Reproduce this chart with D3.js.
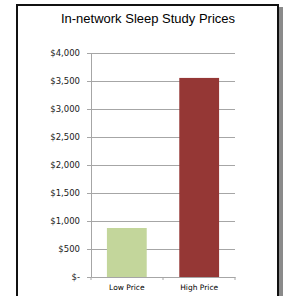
<!DOCTYPE html>
<html>
<head>
<meta charset="utf-8">
<script src="https://cdn.jsdelivr.net/npm/d3@7"></script>
<style>
  body { margin: 0; background: #fff; }
</style>
</head>
<body>
<div id="vis"></div>
<script>
const FRAME_WIDTH = 284;
const FRAME_HEIGHT = 296;
const MARGINS = {left: 91, right: 49, top: 53, bottom: 19};
const VIS_WIDTH = FRAME_WIDTH - MARGINS.left - MARGINS.right;
const VIS_HEIGHT = FRAME_HEIGHT - MARGINS.top - MARGINS.bottom;

const categories = ["Low Price", "High Price"];
const prices = [875, 3555];
const barColors = ["#c3d69b", "#953735"];
const yTicks = [0, 500, 1000, 1500, 2000, 2500, 3000, 3500, 4000];
const title = "In-network  Sleep  Study  Prices";

const svg = d3.select("#vis")
              .append("svg")
              .attr("width", FRAME_WIDTH)
              .attr("height", FRAME_HEIGHT);

// shadowed border round the chart
svg.append("rect")
   .attr("x", 19).attr("y", 7)
   .attr("width", 264).attr("height", 300)
   .attr("fill", "#8a8a8a");
svg.append("rect")
   .attr("x", 17).attr("y", 5)
   .attr("width", 261).attr("height", 300)
   .attr("fill", "#fff")
   .attr("stroke", "#111")
   .attr("stroke-width", 2);

svg.append("text")
   .attr("x", 148).attr("y", 23)
   .attr("text-anchor", "middle")
   .attr("font-family", "Liberation Sans, Arial, sans-serif")
   .attr("font-size", "13px")
   .attr("fill", "#000")
   .text(title);

const X_SCALE = d3.scaleBand()
                  .range([0, VIS_WIDTH])
                  .domain(categories)
                  .paddingInner(0.45)
                  .paddingOuter(0.22);

const Y_SCALE = d3.scaleLinear()
                  .range([VIS_HEIGHT, 0])
                  .domain([0, 4000]);

const g = svg.append("g")
             .attr("transform", "translate(" + MARGINS.left + "," + MARGINS.top + ")");

// gridlines
g.selectAll(".grid")
 .data(yTicks.slice(1))
 .enter()
 .append("line")
   .attr("x1", 0).attr("x2", VIS_WIDTH)
   .attr("y1", d => Math.round(Y_SCALE(d)) + 0.5)
   .attr("y2", d => Math.round(Y_SCALE(d)) + 0.5)
   .attr("stroke", "#a6a6a6");

// y axis
const yAxis = g.append("g")
  .call(d3.axisLeft(Y_SCALE)
          .tickValues(yTicks)
          .tickSize(4)
          .tickPadding(7)
          .tickFormat(d => d === 0 ? "$-" : "$" + d3.format(",")(d)));
yAxis.selectAll("line, path").attr("stroke", "#a6a6a6");
yAxis.selectAll("text")
     .attr("font-family", "DejaVu Sans, sans-serif")
     .attr("font-size", "8.5px")
     .attr("fill", "#1a1a1a");

// bars
g.selectAll(".bar")
 .data(prices)
 .enter()
 .append("rect")
   .attr("x", (d, i) => X_SCALE(categories[i]))
   .attr("width", X_SCALE.bandwidth())
   .attr("y", d => Y_SCALE(d))
   .attr("height", d => VIS_HEIGHT - Y_SCALE(d))
   .attr("fill", (d, i) => barColors[i]);

// x axis
const xAxis = g.append("g")
  .attr("transform", "translate(0," + VIS_HEIGHT + ")")
  .call(d3.axisBottom(X_SCALE).tickSize(0).tickPadding(8));
xAxis.select(".domain").attr("stroke", "#a6a6a6");
xAxis.selectAll("text")
     .attr("font-family", "DejaVu Sans, sans-serif")
     .attr("font-size", "7.5px")
     .attr("fill", "#000");
// category separators
xAxis.selectAll(".sep")
     .data([0, VIS_WIDTH / 2, VIS_WIDTH])
     .enter()
     .append("line")
       .attr("x1", d => d).attr("x2", d => d)
       .attr("y1", 0).attr("y2", 3)
       .attr("stroke", "#a6a6a6");
</script>
</body>
</html>
